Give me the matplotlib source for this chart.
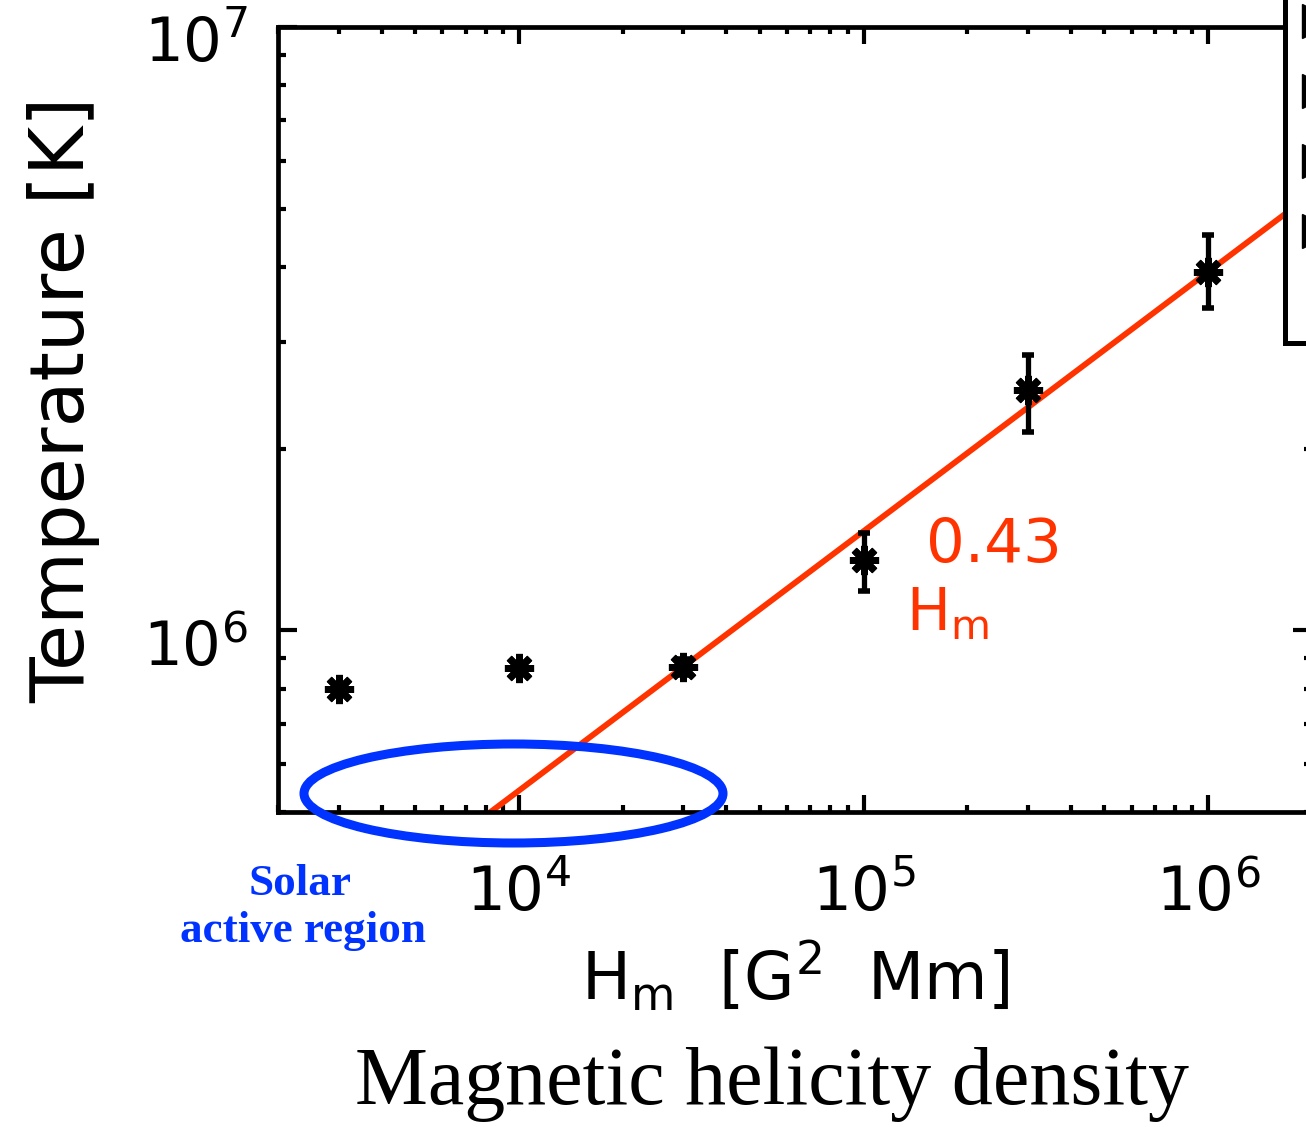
import matplotlib
matplotlib.use("Agg")
import matplotlib.pyplot as plt
import matplotlib.transforms as mtransforms
from matplotlib.lines import Line2D
from matplotlib.patches import Ellipse, Rectangle
from matplotlib.ticker import NullFormatter
import numpy as np

# measured points: helicity density vs temperature
hm = [3e3, 1e4, 3e4, 1e5, 3e5, 1e6]
temp = [8.0e5, 8.65e5, 8.7e5, 1.31e6, 2.50e6, 3.93e6]
temp_lo = [8.0e5, 8.65e5, 8.45e5, 1.16e6, 2.13e6, 3.42e6]
temp_hi = [8.0e5, 8.65e5, 8.95e5, 1.45e6, 2.86e6, 4.52e6]

# power-law fit T ~ Hm^0.43, pinned at Hm = 1e6
fit_slope = 0.43
fit_pivot = 1e6
fit_norm = 3.93e6
fit_range = [5e3, 3e6]

x_limits = [2e3, 2e6]
y_limits = [5e5, 1e7]

RED = "#ff3300"
BLUE = "#0033ff"

plt.rcParams["font.family"] = "DejaVu Sans"
plt.rcParams["mathtext.fontset"] = "dejavusans"

fig = plt.figure(figsize=(13.06, 11.27), dpi=100)
W, H = 1306, 1127
ax = fig.add_axes([278 / W, 1 - 812 / H, (1312 - 278) / W, (812 - 27) / H])

ax.set_xscale("log")
ax.set_yscale("log")
ax.set_xlim(x_limits)
ax.set_ylim(y_limits)

# fit line
fx = np.array(fit_range)
fy = fit_norm * (fx / fit_pivot) ** fit_slope
ax.plot(fx, fy, color=RED, lw=4.2, zorder=2)

# data with error bars
yerr = [np.array(temp) - np.array(temp_lo), np.array(temp_hi) - np.array(temp)]
ax.errorbar(hm, temp, yerr=yerr, fmt="none", ecolor="black", elinewidth=3.8,
            capsize=4, capthick=4, zorder=3)
ax.plot(hm, temp, ls="none", marker=(8, 2, 0), ms=21, mew=5, color="black", zorder=4)

# frame and ticks
for sp in ax.spines.values():
    sp.set_linewidth(3.4)
ax.tick_params(which="both", direction="in", top=True, right=True, width=3)
ax.tick_params(axis="x", which="major", length=12, pad=38, labelsize=44)
ax.tick_params(axis="x", which="minor", length=5)
ax.tick_params(axis="y", which="major", length=14, pad=22, labelsize=44)
ax.tick_params(axis="y", which="minor", length=6)
ax.xaxis.set_minor_formatter(NullFormatter())
ax.yaxis.set_minor_formatter(NullFormatter())

shift = mtransforms.ScaledTranslation(0, -12 / 100, fig.dpi_scale_trans)
for lab in ax.get_yticklabels():
    lab.set_transform(lab.get_transform() + shift)

ax.set_ylabel("Temperature [K]", fontsize=54)
ax.yaxis.set_label_coords(-0.172, 0.525)
ax.set_xlabel(r"H$_\mathrm{m}$  [G$^2$  Mm]", fontsize=47)
ax.xaxis.set_label_coords(0.5, -0.162)

# slope annotation
ax.text(1.52e5, 1.30e6, "0.43", color=RED, fontsize=44, va="baseline", ha="left")
ax.text(1.33e5, 1.0e6, r"H$_\mathrm{m}$", color=RED, fontsize=42, va="baseline", ha="left")

# solar active region marker
fig.add_artist(Ellipse((513.5 / W, 1 - 793.5 / H), 419 / W, 99 / H,
                       transform=fig.transFigure, fill=False, edgecolor=BLUE,
                       lw=6.5, zorder=5))
fig.text(300 / W, 1 - 895 / H, "Solar", color=BLUE, fontsize=32.5, fontweight="bold",
         family="Liberation Serif", ha="center", va="baseline")
fig.text(303 / W, 1 - 942 / H, "active region", color=BLUE, fontsize=32.5,
         fontweight="bold", family="Liberation Serif", ha="center", va="baseline")

fig.text(772 / W, 1 - 1104 / H, "Magnetic helicity density", fontsize=59,
         family="Liberation Serif", ha="center", va="baseline")

# legend box in the upper right corner
fig.add_artist(Rectangle((1284.5 / W, 1 - 342.5 / H), 0.2, 0.4,
                         transform=fig.transFigure, facecolor="white",
                         edgecolor="black", lw=3.6, zorder=6))
for yc in [21, 91, 161, 231]:
    fig.add_artist(Line2D([1318.5 / W], [1 - yc / H], transform=fig.transFigure,
                          marker=">", ms=24, color="black", ls="none", zorder=7))

fig.savefig("out.png", dpi=100)
